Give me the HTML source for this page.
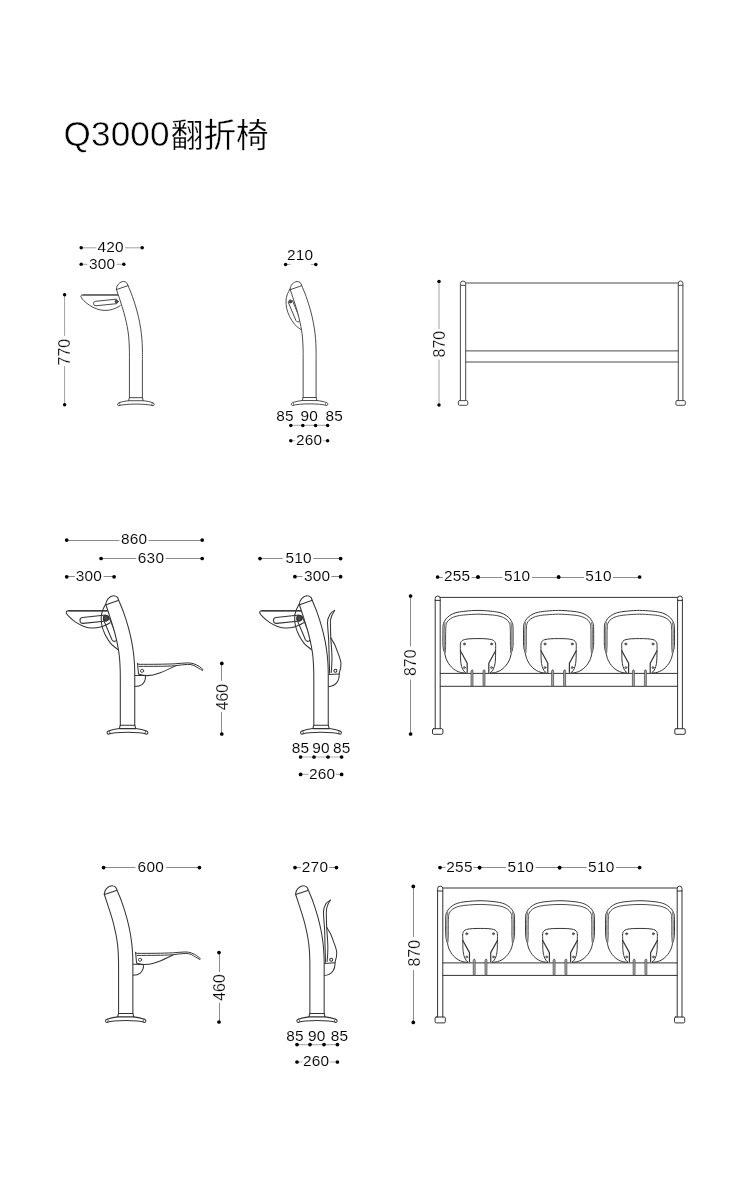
<!DOCTYPE html>
<html lang="zh-CN">
<head>
<meta charset="utf-8">
<title>Q3000翻折椅</title>
<style>
html,body{margin:0;padding:0;background:#fff;}
body{width:750px;height:1200px;position:relative;overflow:hidden;font-family:"Liberation Sans","Noto Sans CJK SC",sans-serif;}
svg{position:absolute;left:0;top:0;will-change:transform;filter:grayscale(1);}
svg text{font-family:"Liberation Sans","Noto Sans CJK SC",sans-serif;fill:#000;stroke:#fff;stroke-width:0.1px;letter-spacing:0.25px;}
svg text.v{stroke-width:0.2px;}
svg .t{stroke:#fff;stroke-width:0.5px;letter-spacing:0.15px;}
svg .c{stroke:#fff;stroke-width:0.3px;letter-spacing:0;}
</style>
</head>
<body>
<svg width="750" height="1200" viewBox="0 0 750 1200" stroke-linecap="round" stroke-linejoin="round">
<text x="63.4" y="145.6"><tspan class="t" font-size="35.2">Q3000</tspan><tspan class="c" x="170.8" y="146.8" font-size="32.6" font-weight="400">翻折椅</tspan></text>
<line x1="81.2" y1="247.8" x2="96" y2="247.8" stroke="#a2a2a2" stroke-width="1"/>
<line x1="125.5" y1="247.8" x2="142.2" y2="247.8" stroke="#a2a2a2" stroke-width="1"/>
<circle cx="81.2" cy="247.8" r="1.75" fill="#000"/>
<circle cx="142.2" cy="247.8" r="1.75" fill="#000"/>
<text x="110.6" y="252.1" font-size="15.4" text-anchor="middle">420</text>
<line x1="81.2" y1="264.3" x2="87" y2="264.3" stroke="#a2a2a2" stroke-width="1"/>
<line x1="117" y1="264.3" x2="123.8" y2="264.3" stroke="#a2a2a2" stroke-width="1"/>
<circle cx="81.2" cy="264.3" r="1.75" fill="#000"/>
<circle cx="123.8" cy="264.3" r="1.75" fill="#000"/>
<text x="102.2" y="268.6" font-size="15.4" text-anchor="middle">300</text>
<line x1="64.6" y1="294.8" x2="64.6" y2="335.5" stroke="#a2a2a2" stroke-width="1"/>
<line x1="64.6" y1="366.4" x2="64.6" y2="404.8" stroke="#a2a2a2" stroke-width="1"/>
<circle cx="64.6" cy="294.8" r="1.75" fill="#000"/>
<circle cx="64.6" cy="404.8" r="1.75" fill="#000"/>
<text transform="translate(70.4 352.15) rotate(-90)" class="v" font-size="15.9" text-anchor="middle" style="letter-spacing:0">770</text>
<g transform="translate(135.9 406.2) scale(0.898)" fill="none" stroke="#404040" stroke-width="1.05">
<path d="M-20.3 -123.9 L-59.2 -123.9 C-61 -123.9 -61.7 -122.8 -61.1 -121.5 C-60.4 -120 -59.2 -118.8 -57.9 -117.5 C-56 -115.6 -54 -113.9 -51.5 -112.3 C-49 -110.7 -46.5 -109.3 -43.5 -108.3 C-41 -107.5 -38.5 -106.8 -35.5 -106.7 C-33 -106.6 -31 -106.7 -29.1 -107.1 C-27 -107.5 -24.8 -108.2 -22.7 -109.1 C-20.8 -109.9 -19 -110.9 -17.5 -111.9" />
<path d="M-20.3 -123.8 L-59 -123.8" stroke-width="1.3"/>
<path d="M-21.76 -119.19 L-44.96 -116.79 A2.5 2.5 0 0 0 -44.44 -111.81 L-21.24 -114.21" />
<circle cx="-21.5" cy="-116.7" r="1.7" fill="#4a4a4a"/>
<path d="M-7.2 -9.5 L-7.2 -54 L-7.2 -54 C-7.22 -55.78 -7.18 -61.05 -7.3 -64.7 C-7.42 -68.35 -7.62 -72.57 -7.9 -75.9 C-8.18 -79.23 -8.53 -81.77 -9 -84.7 C-9.47 -87.63 -9.95 -90.17 -10.7 -93.5 C-11.45 -96.83 -12.37 -100.7 -13.5 -104.7 C-14.63 -108.7 -16.13 -113.25 -17.5 -117.5 C-18.87 -121.75 -21 -128.08 -21.7 -130.2 C-21.6 -133 -20.6 -134.6 -19.5 -135.9 C-17.6 -138 -15.6 -138.9 -13.9 -138.9 C-12.4 -138.9 -11.2 -138.3 -10.3 -137.5 C-9.6 -136.7 -9.2 -135.7 -8.9 -134.6 C-8.07 -132.55 -5.53 -126.88 -3.9 -122.3 C-2.27 -117.72 -0.43 -111.9 0.9 -107.1 C2.23 -102.3 3.23 -97.9 4.1 -93.5 C4.97 -89.1 5.62 -84.62 6.1 -80.7 C6.58 -76.78 6.81 -73.45 7 -70 C7.19 -66.55 7.21 -63 7.25 -60 C7.29 -57 7.25 -53.33 7.25 -52 L7.25 -9.5 Z" fill="#fff" stroke="none"/>
<path d="M-21.7 -130.2 C-21 -128.08 -18.87 -121.75 -17.5 -117.5 C-16.13 -113.25 -14.63 -108.7 -13.5 -104.7 C-12.37 -100.7 -11.45 -96.83 -10.7 -93.5 C-9.95 -90.17 -9.47 -87.63 -9 -84.7 C-8.53 -81.77 -8.18 -79.23 -7.9 -75.9 C-7.62 -72.57 -7.42 -68.35 -7.3 -64.7 C-7.18 -61.05 -7.22 -55.78 -7.2 -54 L-7.2 -9.5" />
<path d="M-8.9 -134.6 C-8.07 -132.55 -5.53 -126.88 -3.9 -122.3 C-2.27 -117.72 -0.43 -111.9 0.9 -107.1 C2.23 -102.3 3.23 -97.9 4.1 -93.5 C4.97 -89.1 5.62 -84.62 6.1 -80.7 C6.58 -76.78 6.81 -73.45 7 -70 C7.19 -66.55 7.21 -63 7.25 -60 C7.29 -57 7.25 -53.33 7.25 -52 L7.25 -9.5" />
<path d="M-21.7 -130.2 C-21.6 -133 -20.6 -134.6 -19.5 -135.9 C-17.6 -138 -15.6 -138.9 -13.9 -138.9 C-12.4 -138.9 -11.2 -138.3 -10.3 -137.5 C-9.6 -136.7 -9.2 -135.7 -8.9 -134.6" />
<path d="M-21.5 -129.9 L-9.3 -134.1" />
<path d="M-7.2 -9.5 L7.25 -9.5 M-7.2 -9.5 L-8.2 -6.1 L8.2 -6.1 L7.25 -9.5" />
<path d="M-8.2 -6.1 C-12 -5.7 -16 -4.9 -19 -3.8 C-20.8 -3.2 -20.9 -0.9 -19.2 -0.5 C-12 -3 12 -3 19.2 -0.5 C20.9 -0.9 20.8 -3.2 19 -3.8 C16 -4.9 12 -5.7 8.2 -6.1" />
<path d="M-18.6 -3.9 C-17.6 -3.2 -17.3 -1.8 -18 -0.9 M18.6 -3.9 C17.6 -3.2 17.3 -1.8 18 -0.9" stroke-width="0.8"/>
</g>
<text x="300.1" y="259.8" font-size="15.4" text-anchor="middle">210</text>
<line x1="285.6" y1="264.4" x2="290" y2="264.4" stroke="#a2a2a2" stroke-width="1"/>
<line x1="311.4" y1="264.4" x2="315.8" y2="264.4" stroke="#a2a2a2" stroke-width="1"/>
<circle cx="285.6" cy="264.4" r="1.75" fill="#000"/>
<circle cx="315.8" cy="264.4" r="1.75" fill="#000"/>
<g transform="translate(309.6 406) scale(0.896)" fill="none" stroke="#404040" stroke-width="1.05">
<path d="M-21.9 -130.5 C-22.43 -129.4 -24.37 -126.07 -25.1 -123.9 C-25.83 -121.73 -26.23 -120.03 -26.3 -117.5 C-26.37 -114.97 -26.17 -111.63 -25.5 -108.7 C-24.83 -105.77 -23.77 -102.83 -22.3 -99.9 C-20.83 -96.97 -18.83 -93.57 -16.7 -91.1 C-14.57 -88.63 -10.7 -86.1 -9.5 -85.1" />
<path d="M-23.8 -115.73 L-15.2 -95.33 A2.5 2.5 0 0 0 -10.6 -97.27 L-19.2 -117.67" />
<circle cx="-21.5" cy="-116.7" r="1.7" fill="#4a4a4a"/>
<path d="M-7.2 -9.5 L-7.2 -54 L-7.2 -54 C-7.22 -55.78 -7.18 -61.05 -7.3 -64.7 C-7.42 -68.35 -7.62 -72.57 -7.9 -75.9 C-8.18 -79.23 -8.53 -81.77 -9 -84.7 C-9.47 -87.63 -9.95 -90.17 -10.7 -93.5 C-11.45 -96.83 -12.37 -100.7 -13.5 -104.7 C-14.63 -108.7 -16.13 -113.25 -17.5 -117.5 C-18.87 -121.75 -21 -128.08 -21.7 -130.2 C-21.6 -133 -20.6 -134.6 -19.5 -135.9 C-17.6 -138 -15.6 -138.9 -13.9 -138.9 C-12.4 -138.9 -11.2 -138.3 -10.3 -137.5 C-9.6 -136.7 -9.2 -135.7 -8.9 -134.6 C-8.07 -132.55 -5.53 -126.88 -3.9 -122.3 C-2.27 -117.72 -0.43 -111.9 0.9 -107.1 C2.23 -102.3 3.23 -97.9 4.1 -93.5 C4.97 -89.1 5.62 -84.62 6.1 -80.7 C6.58 -76.78 6.81 -73.45 7 -70 C7.19 -66.55 7.21 -63 7.25 -60 C7.29 -57 7.25 -53.33 7.25 -52 L7.25 -9.5 Z" fill="#fff" stroke="none"/>
<path d="M-21.7 -130.2 C-21 -128.08 -18.87 -121.75 -17.5 -117.5 C-16.13 -113.25 -14.63 -108.7 -13.5 -104.7 C-12.37 -100.7 -11.45 -96.83 -10.7 -93.5 C-9.95 -90.17 -9.47 -87.63 -9 -84.7 C-8.53 -81.77 -8.18 -79.23 -7.9 -75.9 C-7.62 -72.57 -7.42 -68.35 -7.3 -64.7 C-7.18 -61.05 -7.22 -55.78 -7.2 -54 L-7.2 -9.5" />
<path d="M-8.9 -134.6 C-8.07 -132.55 -5.53 -126.88 -3.9 -122.3 C-2.27 -117.72 -0.43 -111.9 0.9 -107.1 C2.23 -102.3 3.23 -97.9 4.1 -93.5 C4.97 -89.1 5.62 -84.62 6.1 -80.7 C6.58 -76.78 6.81 -73.45 7 -70 C7.19 -66.55 7.21 -63 7.25 -60 C7.29 -57 7.25 -53.33 7.25 -52 L7.25 -9.5" />
<path d="M-21.7 -130.2 C-21.6 -133 -20.6 -134.6 -19.5 -135.9 C-17.6 -138 -15.6 -138.9 -13.9 -138.9 C-12.4 -138.9 -11.2 -138.3 -10.3 -137.5 C-9.6 -136.7 -9.2 -135.7 -8.9 -134.6" />
<path d="M-21.5 -129.9 L-9.3 -134.1" />
<path d="M-7.2 -9.5 L7.25 -9.5 M-7.2 -9.5 L-8.2 -6.1 L8.2 -6.1 L7.25 -9.5" />
<path d="M-8.2 -6.1 C-12 -5.7 -16 -4.9 -19 -3.8 C-20.8 -3.2 -20.9 -0.9 -19.2 -0.5 C-12 -3 12 -3 19.2 -0.5 C20.9 -0.9 20.8 -3.2 19 -3.8 C16 -4.9 12 -5.7 8.2 -6.1" />
<path d="M-18.6 -3.9 C-17.6 -3.2 -17.3 -1.8 -18 -0.9 M18.6 -3.9 C17.6 -3.2 17.3 -1.8 18 -0.9" stroke-width="0.8"/>
</g>
<line x1="290.8" y1="425.4" x2="327.6" y2="425.4" stroke="#b4b4b4" stroke-width="1.2"/>
<circle cx="290.8" cy="425.4" r="1.75" fill="#000"/>
<circle cx="302.8" cy="425.4" r="1.75" fill="#000"/>
<circle cx="315.6" cy="425.4" r="1.75" fill="#000"/>
<circle cx="327.6" cy="425.4" r="1.75" fill="#000"/>
<text x="285" y="420.8" font-size="15.4" text-anchor="middle">85</text>
<text x="309.3" y="420.8" font-size="15.4" text-anchor="middle">90</text>
<text x="334.2" y="420.8" font-size="15.4" text-anchor="middle">85</text>
<line x1="290.8" y1="440.8" x2="294.8" y2="440.8" stroke="#b4b4b4" stroke-width="1.1"/>
<line x1="323.4" y1="440.8" x2="327.6" y2="440.8" stroke="#b4b4b4" stroke-width="1.1"/>
<circle cx="290.8" cy="440.8" r="1.75" fill="#000"/>
<circle cx="327.6" cy="440.8" r="1.75" fill="#000"/>
<text x="309.1" y="445.1" font-size="15.4" text-anchor="middle">260</text>
<line x1="439" y1="281.6" x2="439" y2="328.7" stroke="#a2a2a2" stroke-width="1"/>
<line x1="439" y1="360" x2="439" y2="405.1" stroke="#a2a2a2" stroke-width="1"/>
<circle cx="439" cy="281.6" r="1.75" fill="#000"/>
<circle cx="439" cy="405.1" r="1.75" fill="#000"/>
<text transform="translate(444.8 344.15) rotate(-90)" class="v" font-size="15.9" text-anchor="middle" style="letter-spacing:0">870</text>
<g fill="none" stroke="#4a4a4a" stroke-width="1">
<path d="M460.4 400.6 L460.4 283.65 A2.65 2.65 0 0 1 465.7 283.65 L465.7 400.6" />
<path d="M460.4 285.3 L465.7 285.3" />
<rect x="458.35" y="400.6" width="9.4" height="4.7" rx="1.2" ry="1.2"/>
<path d="M678.3 400.6 L678.3 283.3 A2.3 2.3 0 0 1 682.9 283.3 L682.9 400.6" />
<path d="M678.3 285.3 L682.9 285.3" />
<rect x="675.9" y="400.6" width="9.4" height="4.7" rx="1.2" ry="1.2"/>
<path d="M465.7 283 L678.3 283" />
<path d="M465.7 350.9 L678.3 350.9 M465.7 362 L678.3 362" />
</g>
<line x1="66.7" y1="540.5" x2="119" y2="540.5" stroke="#6e6e6e" stroke-width="0.8"/>
<line x1="148.9" y1="540.5" x2="202.2" y2="540.5" stroke="#6e6e6e" stroke-width="0.8"/>
<circle cx="66.7" cy="540.1" r="1.85" fill="#000"/>
<circle cx="202.2" cy="540.1" r="1.85" fill="#000"/>
<text x="134.15" y="544.4" font-size="15.4" text-anchor="middle">860</text>
<line x1="101.1" y1="558.5" x2="135.8" y2="558.5" stroke="#6e6e6e" stroke-width="0.8"/>
<line x1="166" y1="558.5" x2="202.2" y2="558.5" stroke="#6e6e6e" stroke-width="0.8"/>
<circle cx="101.1" cy="558.5" r="1.85" fill="#000"/>
<circle cx="202.2" cy="558.5" r="1.85" fill="#000"/>
<text x="151" y="562.8" font-size="15.4" text-anchor="middle">630</text>
<line x1="66.7" y1="576.5" x2="74.5" y2="576.5" stroke="#6e6e6e" stroke-width="0.8"/>
<line x1="104" y1="576.5" x2="114.1" y2="576.5" stroke="#6e6e6e" stroke-width="0.8"/>
<circle cx="66.7" cy="576.8" r="1.85" fill="#000"/>
<circle cx="114.1" cy="576.8" r="1.85" fill="#000"/>
<text x="88.9" y="581.1" font-size="15.4" text-anchor="middle">300</text>
<line x1="221.5" y1="663.4" x2="221.5" y2="680.4" stroke="#6e6e6e" stroke-width="0.8"/>
<line x1="221.5" y1="712.4" x2="221.5" y2="734" stroke="#6e6e6e" stroke-width="0.8"/>
<circle cx="221.8" cy="663.4" r="1.85" fill="#000"/>
<circle cx="221.8" cy="734" r="1.85" fill="#000"/>
<text transform="translate(228 697.1) rotate(-90)" class="v" font-size="15.9" text-anchor="middle" style="letter-spacing:0">460</text>
<g transform="translate(127.5 734.7) scale(1.0)" fill="none" stroke="#333" stroke-width="1.05">
<path d="M-20.3 -123.9 L-59.2 -123.9 C-61 -123.9 -61.7 -122.8 -61.1 -121.5 C-60.4 -120 -59.2 -118.8 -57.9 -117.5 C-56 -115.6 -54 -113.9 -51.5 -112.3 C-49 -110.7 -46.5 -109.3 -43.5 -108.3 C-41 -107.5 -38.5 -106.8 -35.5 -106.7 C-33 -106.6 -31 -106.7 -29.1 -107.1 C-27 -107.5 -24.8 -108.2 -22.7 -109.1 C-20.8 -109.9 -19 -110.9 -17.5 -111.9" />
<path d="M-20.3 -123.8 L-59 -123.8" stroke-width="1.3"/>
<path d="M-21.81 -119.68 L-45.01 -117.28 A3.0 3.0 0 0 0 -44.39 -111.32 L-21.19 -113.72" />
<circle cx="-21.5" cy="-116.7" r="2.6" fill="#4a4a4a"/>
<path d="M-21.9 -130.5 C-22.43 -129.4 -24.37 -126.07 -25.1 -123.9 C-25.83 -121.73 -26.23 -120.03 -26.3 -117.5 C-26.37 -114.97 -26.17 -111.63 -25.5 -108.7 C-24.83 -105.77 -23.77 -102.83 -22.3 -99.9 C-20.83 -96.97 -18.83 -93.57 -16.7 -91.1 C-14.57 -88.63 -10.7 -86.1 -9.5 -85.1" />
<path d="M-24.26 -115.53 L-15.66 -95.13 A3.0 3.0 0 0 0 -10.14 -97.47 L-18.74 -117.87" />
<circle cx="-21.5" cy="-116.7" r="2.6" fill="#4a4a4a"/>
<path d="M10 -71.5 L10.9 -70.4 C24 -70.3 38 -70.5 47.3 -70.9 C52 -71.1 56 -71.8 60.1 -71.8 C62.5 -71.8 64.6 -71.5 66.5 -70.8 C68.6 -70 70.2 -69.2 71.8 -68.2 C73.2 -67.2 74.4 -66.2 75.5 -65.1 L75 -64.1 C73.8 -65 72.6 -65.8 70.8 -66.6 C69.2 -67.5 68 -68.4 66.5 -69.2 C64.6 -70 62.5 -70.3 60.1 -70.3 C56 -70.3 52 -69.3 47.3 -68.9 C38 -68.3 24 -68.4 11.5 -68.3" stroke-width="1.0"/>
<path d="M10 -71.5 L11 -60.7 C13 -59.8 16 -59.2 18.5 -59.1 C27 -58.6 36.5 -63.2 47.8 -68.8" />
<circle cx="14.55" cy="-63.9" r="1.6" fill="#fff" stroke-width="0.9"/>
<path d="M7.3 -59.3 L17.8 -59.1 C18.1 -57.6 18 -56.2 17.6 -54.9 C17 -53 16.1 -51.6 14.8 -50.4 C13 -48.9 10.4 -48.3 7.3 -48.3" />
<path d="M-7.2 -9.5 L-7.2 -54 L-7.2 -54 C-7.22 -55.78 -7.18 -61.05 -7.3 -64.7 C-7.42 -68.35 -7.62 -72.57 -7.9 -75.9 C-8.18 -79.23 -8.53 -81.77 -9 -84.7 C-9.47 -87.63 -9.95 -90.17 -10.7 -93.5 C-11.45 -96.83 -12.37 -100.7 -13.5 -104.7 C-14.63 -108.7 -16.13 -113.25 -17.5 -117.5 C-18.87 -121.75 -21 -128.08 -21.7 -130.2 C-21.6 -133 -20.6 -134.6 -19.5 -135.9 C-17.6 -138 -15.6 -138.9 -13.9 -138.9 C-12.4 -138.9 -11.2 -138.3 -10.3 -137.5 C-9.6 -136.7 -9.2 -135.7 -8.9 -134.6 C-8.07 -132.55 -5.53 -126.88 -3.9 -122.3 C-2.27 -117.72 -0.43 -111.9 0.9 -107.1 C2.23 -102.3 3.23 -97.9 4.1 -93.5 C4.97 -89.1 5.62 -84.62 6.1 -80.7 C6.58 -76.78 6.81 -73.45 7 -70 C7.19 -66.55 7.21 -63 7.25 -60 C7.29 -57 7.25 -53.33 7.25 -52 L7.25 -9.5 Z" fill="#fff" stroke="none"/>
<path d="M-21.7 -130.2 C-21 -128.08 -18.87 -121.75 -17.5 -117.5 C-16.13 -113.25 -14.63 -108.7 -13.5 -104.7 C-12.37 -100.7 -11.45 -96.83 -10.7 -93.5 C-9.95 -90.17 -9.47 -87.63 -9 -84.7 C-8.53 -81.77 -8.18 -79.23 -7.9 -75.9 C-7.62 -72.57 -7.42 -68.35 -7.3 -64.7 C-7.18 -61.05 -7.22 -55.78 -7.2 -54 L-7.2 -9.5" />
<path d="M-8.9 -134.6 C-8.07 -132.55 -5.53 -126.88 -3.9 -122.3 C-2.27 -117.72 -0.43 -111.9 0.9 -107.1 C2.23 -102.3 3.23 -97.9 4.1 -93.5 C4.97 -89.1 5.62 -84.62 6.1 -80.7 C6.58 -76.78 6.81 -73.45 7 -70 C7.19 -66.55 7.21 -63 7.25 -60 C7.29 -57 7.25 -53.33 7.25 -52 L7.25 -9.5" />
<path d="M-21.7 -130.2 C-21.6 -133 -20.6 -134.6 -19.5 -135.9 C-17.6 -138 -15.6 -138.9 -13.9 -138.9 C-12.4 -138.9 -11.2 -138.3 -10.3 -137.5 C-9.6 -136.7 -9.2 -135.7 -8.9 -134.6" />
<path d="M-21.5 -129.9 L-9.3 -134.1" />
<path d="M-7.2 -9.5 L7.25 -9.5 M-7.2 -9.5 L-8.2 -6.1 L8.2 -6.1 L7.25 -9.5" />
<path d="M-8.2 -6.1 C-12 -5.7 -16 -4.9 -19 -3.8 C-20.8 -3.2 -20.9 -0.9 -19.2 -0.5 C-12 -3 12 -3 19.2 -0.5 C20.9 -0.9 20.8 -3.2 19 -3.8 C16 -4.9 12 -5.7 8.2 -6.1" />
<path d="M-18.6 -3.9 C-17.6 -3.2 -17.3 -1.8 -18 -0.9 M18.6 -3.9 C17.6 -3.2 17.3 -1.8 18 -0.9" stroke-width="0.8"/>
</g>
<line x1="260" y1="558.5" x2="282.4" y2="558.5" stroke="#6e6e6e" stroke-width="0.8"/>
<line x1="313.6" y1="558.5" x2="340.6" y2="558.5" stroke="#6e6e6e" stroke-width="0.8"/>
<circle cx="260" cy="558.6" r="1.85" fill="#000"/>
<circle cx="340.6" cy="558.6" r="1.85" fill="#000"/>
<text x="298.7" y="562.9" font-size="15.4" text-anchor="middle">510</text>
<line x1="294.9" y1="576.5" x2="302.2" y2="576.5" stroke="#6e6e6e" stroke-width="0.8"/>
<line x1="331.8" y1="576.5" x2="340.6" y2="576.5" stroke="#6e6e6e" stroke-width="0.8"/>
<circle cx="294.9" cy="576.7" r="1.85" fill="#000"/>
<circle cx="340.6" cy="576.7" r="1.85" fill="#000"/>
<text x="317.1" y="581" font-size="15.4" text-anchor="middle">300</text>
<g transform="translate(321 734.7) scale(1.0)" fill="none" stroke="#333" stroke-width="1.05">
<path d="M-20.3 -123.9 L-59.2 -123.9 C-61 -123.9 -61.7 -122.8 -61.1 -121.5 C-60.4 -120 -59.2 -118.8 -57.9 -117.5 C-56 -115.6 -54 -113.9 -51.5 -112.3 C-49 -110.7 -46.5 -109.3 -43.5 -108.3 C-41 -107.5 -38.5 -106.8 -35.5 -106.7 C-33 -106.6 -31 -106.7 -29.1 -107.1 C-27 -107.5 -24.8 -108.2 -22.7 -109.1 C-20.8 -109.9 -19 -110.9 -17.5 -111.9" />
<path d="M-20.3 -123.8 L-59 -123.8" stroke-width="1.3"/>
<path d="M-21.81 -119.68 L-45.01 -117.28 A3.0 3.0 0 0 0 -44.39 -111.32 L-21.19 -113.72" />
<circle cx="-21.5" cy="-116.7" r="2.6" fill="#4a4a4a"/>
<path d="M-21.9 -130.5 C-22.43 -129.4 -24.37 -126.07 -25.1 -123.9 C-25.83 -121.73 -26.23 -120.03 -26.3 -117.5 C-26.37 -114.97 -26.17 -111.63 -25.5 -108.7 C-24.83 -105.77 -23.77 -102.83 -22.3 -99.9 C-20.83 -96.97 -18.83 -93.57 -16.7 -91.1 C-14.57 -88.63 -10.7 -86.1 -9.5 -85.1" />
<path d="M-24.26 -115.53 L-15.66 -95.13 A3.0 3.0 0 0 0 -10.14 -97.47 L-18.74 -117.87" />
<circle cx="-21.5" cy="-116.7" r="2.6" fill="#4a4a4a"/>
<path d="M13.6 -124.3 C11 -123 9.6 -121.6 9 -120.5 C7 -117 6.4 -115 6.5 -112 C6.8 -105 7.6 -98 7.75 -93 L8.6 -61.4" />
<path d="M13.6 -124.3 C12 -121.6 11.2 -120.4 10.7 -118.9 C9.6 -116 9.3 -114 9.4 -111.4 C9.5 -106 9.6 -101 9.8 -97.2 C10.2 -90 11 -82 11 -76.4 C11 -70 10.6 -66 10.25 -62.2" />
<path d="M9.8 -96.8 C12.5 -93 15 -88 16.5 -83 C18.4 -78 19.8 -74.4 20 -71.4 C20.2 -68 19.2 -64.4 18.2 -61.4" />
<path d="M7.5 -60.2 L18.2 -60.8" />
<circle cx="14.4" cy="-63.9" r="1.5" fill="#fff"/>
<path d="M18.2 -60.8 C18.6 -54 15 -48.6 7.3 -48" />
<path d="M-7.2 -9.5 L-7.2 -54 L-7.2 -54 C-7.22 -55.78 -7.18 -61.05 -7.3 -64.7 C-7.42 -68.35 -7.62 -72.57 -7.9 -75.9 C-8.18 -79.23 -8.53 -81.77 -9 -84.7 C-9.47 -87.63 -9.95 -90.17 -10.7 -93.5 C-11.45 -96.83 -12.37 -100.7 -13.5 -104.7 C-14.63 -108.7 -16.13 -113.25 -17.5 -117.5 C-18.87 -121.75 -21 -128.08 -21.7 -130.2 C-21.6 -133 -20.6 -134.6 -19.5 -135.9 C-17.6 -138 -15.6 -138.9 -13.9 -138.9 C-12.4 -138.9 -11.2 -138.3 -10.3 -137.5 C-9.6 -136.7 -9.2 -135.7 -8.9 -134.6 C-8.07 -132.55 -5.53 -126.88 -3.9 -122.3 C-2.27 -117.72 -0.43 -111.9 0.9 -107.1 C2.23 -102.3 3.23 -97.9 4.1 -93.5 C4.97 -89.1 5.62 -84.62 6.1 -80.7 C6.58 -76.78 6.81 -73.45 7 -70 C7.19 -66.55 7.21 -63 7.25 -60 C7.29 -57 7.25 -53.33 7.25 -52 L7.25 -9.5 Z" fill="#fff" stroke="none"/>
<path d="M-21.7 -130.2 C-21 -128.08 -18.87 -121.75 -17.5 -117.5 C-16.13 -113.25 -14.63 -108.7 -13.5 -104.7 C-12.37 -100.7 -11.45 -96.83 -10.7 -93.5 C-9.95 -90.17 -9.47 -87.63 -9 -84.7 C-8.53 -81.77 -8.18 -79.23 -7.9 -75.9 C-7.62 -72.57 -7.42 -68.35 -7.3 -64.7 C-7.18 -61.05 -7.22 -55.78 -7.2 -54 L-7.2 -9.5" />
<path d="M-8.9 -134.6 C-8.07 -132.55 -5.53 -126.88 -3.9 -122.3 C-2.27 -117.72 -0.43 -111.9 0.9 -107.1 C2.23 -102.3 3.23 -97.9 4.1 -93.5 C4.97 -89.1 5.62 -84.62 6.1 -80.7 C6.58 -76.78 6.81 -73.45 7 -70 C7.19 -66.55 7.21 -63 7.25 -60 C7.29 -57 7.25 -53.33 7.25 -52 L7.25 -9.5" />
<path d="M-21.7 -130.2 C-21.6 -133 -20.6 -134.6 -19.5 -135.9 C-17.6 -138 -15.6 -138.9 -13.9 -138.9 C-12.4 -138.9 -11.2 -138.3 -10.3 -137.5 C-9.6 -136.7 -9.2 -135.7 -8.9 -134.6" />
<path d="M-21.5 -129.9 L-9.3 -134.1" />
<path d="M-7.2 -9.5 L7.25 -9.5 M-7.2 -9.5 L-8.2 -6.1 L8.2 -6.1 L7.25 -9.5" />
<path d="M-8.2 -6.1 C-12 -5.7 -16 -4.9 -19 -3.8 C-20.8 -3.2 -20.9 -0.9 -19.2 -0.5 C-12 -3 12 -3 19.2 -0.5 C20.9 -0.9 20.8 -3.2 19 -3.8 C16 -4.9 12 -5.7 8.2 -6.1" />
<path d="M-18.6 -3.9 C-17.6 -3.2 -17.3 -1.8 -18 -0.9 M18.6 -3.9 C17.6 -3.2 17.3 -1.8 18 -0.9" stroke-width="0.8"/>
</g>
<line x1="300.6" y1="757" x2="341.6" y2="757" stroke="#b4b4b4" stroke-width="1.2"/>
<circle cx="300.6" cy="757" r="1.85" fill="#000"/>
<circle cx="314" cy="757" r="1.85" fill="#000"/>
<circle cx="328" cy="757" r="1.85" fill="#000"/>
<circle cx="341.6" cy="757" r="1.85" fill="#000"/>
<text x="300.5" y="753.4" font-size="15.4" text-anchor="middle">85</text>
<text x="321" y="753.4" font-size="15.4" text-anchor="middle">90</text>
<text x="341.7" y="753.4" font-size="15.4" text-anchor="middle">85</text>
<line x1="300.6" y1="774.4" x2="308" y2="774.4" stroke="#b4b4b4" stroke-width="1.1"/>
<line x1="336.4" y1="774.4" x2="341.6" y2="774.4" stroke="#b4b4b4" stroke-width="1.1"/>
<circle cx="300.6" cy="774.4" r="1.85" fill="#000"/>
<circle cx="341.6" cy="774.4" r="1.85" fill="#000"/>
<text x="322.2" y="778.7" font-size="15.4" text-anchor="middle">260</text>
<line x1="437.6" y1="577.5" x2="442.4" y2="577.5" stroke="#6e6e6e" stroke-width="0.8"/>
<line x1="472" y1="577.5" x2="478" y2="577.5" stroke="#6e6e6e" stroke-width="0.8"/>
<circle cx="437.6" cy="577" r="1.85" fill="#000"/>
<circle cx="478" cy="577" r="1.85" fill="#000"/>
<text x="457.2" y="581.3" font-size="15.4" text-anchor="middle">255</text>
<line x1="478" y1="577.5" x2="502" y2="577.5" stroke="#6e6e6e" stroke-width="0.8"/>
<line x1="532.4" y1="577.5" x2="558.6" y2="577.5" stroke="#6e6e6e" stroke-width="0.8"/>
<circle cx="478" cy="577" r="1.85" fill="#000"/>
<circle cx="558.6" cy="577" r="1.85" fill="#000"/>
<text x="517.2" y="581.3" font-size="15.4" text-anchor="middle">510</text>
<line x1="558.6" y1="577.5" x2="583.6" y2="577.5" stroke="#6e6e6e" stroke-width="0.8"/>
<line x1="613.4" y1="577.5" x2="639.6" y2="577.5" stroke="#6e6e6e" stroke-width="0.8"/>
<circle cx="558.6" cy="577" r="1.85" fill="#000"/>
<circle cx="639.6" cy="577" r="1.85" fill="#000"/>
<text x="598.5" y="581.3" font-size="15.4" text-anchor="middle">510</text>
<line x1="410.5" y1="596" x2="410.5" y2="646" stroke="#6e6e6e" stroke-width="0.8"/>
<line x1="410.5" y1="680" x2="410.5" y2="734" stroke="#6e6e6e" stroke-width="0.8"/>
<circle cx="410.6" cy="596" r="1.85" fill="#000"/>
<circle cx="410.6" cy="734" r="1.85" fill="#000"/>
<text transform="translate(415.9 662.8) rotate(-90)" class="v" font-size="15.9" text-anchor="middle" style="letter-spacing:0">870</text>
<g fill="none" stroke="#333" stroke-width="1">
<path d="M435.2 728.7 L435.2 598.5 A2.5 2.5 0 0 1 440.2 598.5 L440.2 728.7" />
<path d="M435.2 600.4 L440.2 600.4" />
<rect x="432.5" y="728.7" width="10.4" height="5.6" rx="1.2" ry="1.2"/>
<path d="M677.6 728.7 L677.6 598.4 A2.4 2.4 0 0 1 682.4 598.4 L682.4 728.7" />
<path d="M677.6 600.4 L682.4 600.4" />
<rect x="674.8" y="728.7" width="10.4" height="5.6" rx="1.2" ry="1.2"/>
<path d="M440.2 597.4 L677.6 597.4" />
<path d="M440.2 673.4 L677.6 673.4 M440.2 686.3 L677.6 686.3" />
</g>
<g transform="translate(478 0) scale(1.0)" fill="none" stroke="#333" stroke-width="1">
<path d="M-12.8 673 C-13.6 672.9 -16 672.83 -17.6 672.4 C-19.2 671.97 -20.93 671.27 -22.4 670.4 C-23.87 669.53 -25.2 668.4 -26.4 667.2 C-27.6 666 -28.67 664.67 -29.6 663.2 C-30.53 661.73 -31.4 660 -32 658.4 C-32.6 656.8 -32.77 655.2 -33.2 653.6 C-33.63 652 -34.29 650.4 -34.6 648.8 C-34.91 647.2 -34.97 646.8 -35.05 644 C-35.12 641.2 -35.09 635.2 -35.05 632 C-35.01 628.8 -35.11 626.67 -34.8 624.8 C-34.49 622.93 -33.93 622.07 -33.2 620.8 C-32.47 619.53 -31.67 618.33 -30.4 617.2 C-29.13 616.07 -27.33 614.83 -25.6 614 C-23.87 613.17 -22.27 612.68 -20 612.2 C-17.73 611.72 -15.33 611.4 -12 611.1 C-8.67 610.8 -4 610.4 0 610.4 C4 610.4 8.67 610.8 12 611.1 C15.33 611.4 17.73 611.72 20 612.2 C22.27 612.68 23.87 613.17 25.6 614 C27.33 614.83 29.13 616.07 30.4 617.2 C31.67 618.33 32.47 619.53 33.2 620.8 C33.93 622.07 34.49 622.93 34.8 624.8 C35.11 626.67 35.01 628.8 35.05 632 C35.09 635.2 35.12 641.2 35.05 644 C34.97 646.8 34.91 647.2 34.6 648.8 C34.29 650.4 33.63 652 33.2 653.6 C32.77 655.2 32.6 656.8 32 658.4 C31.4 660 30.53 661.73 29.6 663.2 C28.67 664.67 27.6 666 26.4 667.2 C25.2 668.4 23.87 669.53 22.4 670.4 C20.93 671.27 19.2 671.97 17.6 672.4 C16 672.83 13.6 672.9 12.8 673" />
<path d="M-32.8 652.8 C-32.73 651.6 -32.47 648.4 -32.4 645.6 C-32.33 642.8 -32.43 638.93 -32.4 636 C-32.37 633.07 -32.33 630.07 -32.2 628 C-32.07 625.93 -32.03 624.87 -31.6 623.6 C-31.17 622.33 -30.6 621.4 -29.6 620.4 C-28.6 619.4 -27.2 618.37 -25.6 617.6 C-24 616.83 -22.27 616.27 -20 615.8 C-17.73 615.33 -15.33 615.07 -12 614.8 C-8.67 614.53 -4 614.2 0 614.2 C4 614.2 8.67 614.53 12 614.8 C15.33 615.07 17.73 615.33 20 615.8 C22.27 616.27 24 616.83 25.6 617.6 C27.2 618.37 28.6 619.4 29.6 620.4 C30.6 621.4 31.17 622.33 31.6 623.6 C32.03 624.87 32.07 625.93 32.2 628 C32.33 630.07 32.37 633.07 32.4 636 C32.43 638.93 32.33 642.8 32.4 645.6 C32.47 648.4 32.73 651.6 32.8 652.8" stroke-width="0.9"/>
<path d="M-12.4 672.6 C-12.73 672.3 -13.73 671.83 -14.4 670.8 C-15.07 669.77 -15.9 668.2 -16.4 666.4 C-16.9 664.6 -17.2 662.67 -17.4 660 C-17.6 657.33 -17.57 653.07 -17.6 650.4 C-17.63 647.73 -17.8 645.53 -17.6 644 C-17.4 642.47 -17.07 641.93 -16.4 641.2 C-15.73 640.47 -15 640 -13.6 639.6 C-12.2 639.2 -10.27 638.97 -8 638.8 C-5.73 638.63 -2.67 638.6 0 638.6 C2.67 638.6 5.73 638.63 8 638.8 C10.27 638.97 12.2 639.2 13.6 639.6 C15 640 15.73 640.47 16.4 641.2 C17.07 641.93 17.4 642.47 17.6 644 C17.8 645.53 17.63 647.73 17.6 650.4 C17.57 653.07 17.6 657.33 17.4 660 C17.2 662.67 16.9 664.6 16.4 666.4 C15.9 668.2 15.07 669.77 14.4 670.8 C13.73 671.83 12.73 672.3 12.4 672.6" />
<path d="M-33 622.6 C-33.12 623.5 -33.57 625.77 -33.7 628 C-33.83 630.23 -33.8 632.83 -33.8 636 C-33.8 639.17 -33.8 644.27 -33.7 647 C-33.6 649.73 -33.28 651.5 -33.2 652.4" stroke-width="1.3" stroke="#888"/>
<path d="M-17.6 650.8 L-10.8 663.2 L-10.8 672.4" stroke-width="1.2"/>
<circle cx="13.6" cy="644" r="1.1" fill="#555" stroke="#444" stroke-width="0.6"/>
<circle cx="13.6" cy="667.6" r="1.0" fill="#999" stroke="#444" stroke-width="0.7"/>
<rect x="5" y="670" width="2.0" height="16.2" rx="1" fill="#aaa" stroke="#444" stroke-width="0.7"/>
<path d="M33 622.6 C33.12 623.5 33.57 625.77 33.7 628 C33.83 630.23 33.8 632.83 33.8 636 C33.8 639.17 33.8 644.27 33.7 647 C33.6 649.73 33.28 651.5 33.2 652.4" stroke-width="1.3" stroke="#888"/>
<path d="M17.6 650.8 L10.8 663.2 L10.8 672.4" stroke-width="1.2"/>
<circle cx="-13.6" cy="644" r="1.1" fill="#555" stroke="#444" stroke-width="0.6"/>
<circle cx="-13.6" cy="667.6" r="1.0" fill="#999" stroke="#444" stroke-width="0.7"/>
<rect x="-7" y="670" width="2.0" height="16.2" rx="1" fill="#aaa" stroke="#444" stroke-width="0.7"/>
</g>
<g transform="translate(558.6 0) scale(1.0)" fill="none" stroke="#333" stroke-width="1">
<path d="M-12.8 673 C-13.6 672.9 -16 672.83 -17.6 672.4 C-19.2 671.97 -20.93 671.27 -22.4 670.4 C-23.87 669.53 -25.2 668.4 -26.4 667.2 C-27.6 666 -28.67 664.67 -29.6 663.2 C-30.53 661.73 -31.4 660 -32 658.4 C-32.6 656.8 -32.77 655.2 -33.2 653.6 C-33.63 652 -34.29 650.4 -34.6 648.8 C-34.91 647.2 -34.97 646.8 -35.05 644 C-35.12 641.2 -35.09 635.2 -35.05 632 C-35.01 628.8 -35.11 626.67 -34.8 624.8 C-34.49 622.93 -33.93 622.07 -33.2 620.8 C-32.47 619.53 -31.67 618.33 -30.4 617.2 C-29.13 616.07 -27.33 614.83 -25.6 614 C-23.87 613.17 -22.27 612.68 -20 612.2 C-17.73 611.72 -15.33 611.4 -12 611.1 C-8.67 610.8 -4 610.4 0 610.4 C4 610.4 8.67 610.8 12 611.1 C15.33 611.4 17.73 611.72 20 612.2 C22.27 612.68 23.87 613.17 25.6 614 C27.33 614.83 29.13 616.07 30.4 617.2 C31.67 618.33 32.47 619.53 33.2 620.8 C33.93 622.07 34.49 622.93 34.8 624.8 C35.11 626.67 35.01 628.8 35.05 632 C35.09 635.2 35.12 641.2 35.05 644 C34.97 646.8 34.91 647.2 34.6 648.8 C34.29 650.4 33.63 652 33.2 653.6 C32.77 655.2 32.6 656.8 32 658.4 C31.4 660 30.53 661.73 29.6 663.2 C28.67 664.67 27.6 666 26.4 667.2 C25.2 668.4 23.87 669.53 22.4 670.4 C20.93 671.27 19.2 671.97 17.6 672.4 C16 672.83 13.6 672.9 12.8 673" />
<path d="M-32.8 652.8 C-32.73 651.6 -32.47 648.4 -32.4 645.6 C-32.33 642.8 -32.43 638.93 -32.4 636 C-32.37 633.07 -32.33 630.07 -32.2 628 C-32.07 625.93 -32.03 624.87 -31.6 623.6 C-31.17 622.33 -30.6 621.4 -29.6 620.4 C-28.6 619.4 -27.2 618.37 -25.6 617.6 C-24 616.83 -22.27 616.27 -20 615.8 C-17.73 615.33 -15.33 615.07 -12 614.8 C-8.67 614.53 -4 614.2 0 614.2 C4 614.2 8.67 614.53 12 614.8 C15.33 615.07 17.73 615.33 20 615.8 C22.27 616.27 24 616.83 25.6 617.6 C27.2 618.37 28.6 619.4 29.6 620.4 C30.6 621.4 31.17 622.33 31.6 623.6 C32.03 624.87 32.07 625.93 32.2 628 C32.33 630.07 32.37 633.07 32.4 636 C32.43 638.93 32.33 642.8 32.4 645.6 C32.47 648.4 32.73 651.6 32.8 652.8" stroke-width="0.9"/>
<path d="M-12.4 672.6 C-12.73 672.3 -13.73 671.83 -14.4 670.8 C-15.07 669.77 -15.9 668.2 -16.4 666.4 C-16.9 664.6 -17.2 662.67 -17.4 660 C-17.6 657.33 -17.57 653.07 -17.6 650.4 C-17.63 647.73 -17.8 645.53 -17.6 644 C-17.4 642.47 -17.07 641.93 -16.4 641.2 C-15.73 640.47 -15 640 -13.6 639.6 C-12.2 639.2 -10.27 638.97 -8 638.8 C-5.73 638.63 -2.67 638.6 0 638.6 C2.67 638.6 5.73 638.63 8 638.8 C10.27 638.97 12.2 639.2 13.6 639.6 C15 640 15.73 640.47 16.4 641.2 C17.07 641.93 17.4 642.47 17.6 644 C17.8 645.53 17.63 647.73 17.6 650.4 C17.57 653.07 17.6 657.33 17.4 660 C17.2 662.67 16.9 664.6 16.4 666.4 C15.9 668.2 15.07 669.77 14.4 670.8 C13.73 671.83 12.73 672.3 12.4 672.6" />
<path d="M-33 622.6 C-33.12 623.5 -33.57 625.77 -33.7 628 C-33.83 630.23 -33.8 632.83 -33.8 636 C-33.8 639.17 -33.8 644.27 -33.7 647 C-33.6 649.73 -33.28 651.5 -33.2 652.4" stroke-width="1.3" stroke="#888"/>
<path d="M-17.6 650.8 L-10.8 663.2 L-10.8 672.4" stroke-width="1.2"/>
<circle cx="13.6" cy="644" r="1.1" fill="#555" stroke="#444" stroke-width="0.6"/>
<circle cx="13.6" cy="667.6" r="1.0" fill="#999" stroke="#444" stroke-width="0.7"/>
<rect x="5" y="670" width="2.0" height="16.2" rx="1" fill="#aaa" stroke="#444" stroke-width="0.7"/>
<path d="M33 622.6 C33.12 623.5 33.57 625.77 33.7 628 C33.83 630.23 33.8 632.83 33.8 636 C33.8 639.17 33.8 644.27 33.7 647 C33.6 649.73 33.28 651.5 33.2 652.4" stroke-width="1.3" stroke="#888"/>
<path d="M17.6 650.8 L10.8 663.2 L10.8 672.4" stroke-width="1.2"/>
<circle cx="-13.6" cy="644" r="1.1" fill="#555" stroke="#444" stroke-width="0.6"/>
<circle cx="-13.6" cy="667.6" r="1.0" fill="#999" stroke="#444" stroke-width="0.7"/>
<rect x="-7" y="670" width="2.0" height="16.2" rx="1" fill="#aaa" stroke="#444" stroke-width="0.7"/>
</g>
<g transform="translate(639.4 0) scale(1.0)" fill="none" stroke="#333" stroke-width="1">
<path d="M-12.8 673 C-13.6 672.9 -16 672.83 -17.6 672.4 C-19.2 671.97 -20.93 671.27 -22.4 670.4 C-23.87 669.53 -25.2 668.4 -26.4 667.2 C-27.6 666 -28.67 664.67 -29.6 663.2 C-30.53 661.73 -31.4 660 -32 658.4 C-32.6 656.8 -32.77 655.2 -33.2 653.6 C-33.63 652 -34.29 650.4 -34.6 648.8 C-34.91 647.2 -34.97 646.8 -35.05 644 C-35.12 641.2 -35.09 635.2 -35.05 632 C-35.01 628.8 -35.11 626.67 -34.8 624.8 C-34.49 622.93 -33.93 622.07 -33.2 620.8 C-32.47 619.53 -31.67 618.33 -30.4 617.2 C-29.13 616.07 -27.33 614.83 -25.6 614 C-23.87 613.17 -22.27 612.68 -20 612.2 C-17.73 611.72 -15.33 611.4 -12 611.1 C-8.67 610.8 -4 610.4 0 610.4 C4 610.4 8.67 610.8 12 611.1 C15.33 611.4 17.73 611.72 20 612.2 C22.27 612.68 23.87 613.17 25.6 614 C27.33 614.83 29.13 616.07 30.4 617.2 C31.67 618.33 32.47 619.53 33.2 620.8 C33.93 622.07 34.49 622.93 34.8 624.8 C35.11 626.67 35.01 628.8 35.05 632 C35.09 635.2 35.12 641.2 35.05 644 C34.97 646.8 34.91 647.2 34.6 648.8 C34.29 650.4 33.63 652 33.2 653.6 C32.77 655.2 32.6 656.8 32 658.4 C31.4 660 30.53 661.73 29.6 663.2 C28.67 664.67 27.6 666 26.4 667.2 C25.2 668.4 23.87 669.53 22.4 670.4 C20.93 671.27 19.2 671.97 17.6 672.4 C16 672.83 13.6 672.9 12.8 673" />
<path d="M-32.8 652.8 C-32.73 651.6 -32.47 648.4 -32.4 645.6 C-32.33 642.8 -32.43 638.93 -32.4 636 C-32.37 633.07 -32.33 630.07 -32.2 628 C-32.07 625.93 -32.03 624.87 -31.6 623.6 C-31.17 622.33 -30.6 621.4 -29.6 620.4 C-28.6 619.4 -27.2 618.37 -25.6 617.6 C-24 616.83 -22.27 616.27 -20 615.8 C-17.73 615.33 -15.33 615.07 -12 614.8 C-8.67 614.53 -4 614.2 0 614.2 C4 614.2 8.67 614.53 12 614.8 C15.33 615.07 17.73 615.33 20 615.8 C22.27 616.27 24 616.83 25.6 617.6 C27.2 618.37 28.6 619.4 29.6 620.4 C30.6 621.4 31.17 622.33 31.6 623.6 C32.03 624.87 32.07 625.93 32.2 628 C32.33 630.07 32.37 633.07 32.4 636 C32.43 638.93 32.33 642.8 32.4 645.6 C32.47 648.4 32.73 651.6 32.8 652.8" stroke-width="0.9"/>
<path d="M-12.4 672.6 C-12.73 672.3 -13.73 671.83 -14.4 670.8 C-15.07 669.77 -15.9 668.2 -16.4 666.4 C-16.9 664.6 -17.2 662.67 -17.4 660 C-17.6 657.33 -17.57 653.07 -17.6 650.4 C-17.63 647.73 -17.8 645.53 -17.6 644 C-17.4 642.47 -17.07 641.93 -16.4 641.2 C-15.73 640.47 -15 640 -13.6 639.6 C-12.2 639.2 -10.27 638.97 -8 638.8 C-5.73 638.63 -2.67 638.6 0 638.6 C2.67 638.6 5.73 638.63 8 638.8 C10.27 638.97 12.2 639.2 13.6 639.6 C15 640 15.73 640.47 16.4 641.2 C17.07 641.93 17.4 642.47 17.6 644 C17.8 645.53 17.63 647.73 17.6 650.4 C17.57 653.07 17.6 657.33 17.4 660 C17.2 662.67 16.9 664.6 16.4 666.4 C15.9 668.2 15.07 669.77 14.4 670.8 C13.73 671.83 12.73 672.3 12.4 672.6" />
<path d="M-33 622.6 C-33.12 623.5 -33.57 625.77 -33.7 628 C-33.83 630.23 -33.8 632.83 -33.8 636 C-33.8 639.17 -33.8 644.27 -33.7 647 C-33.6 649.73 -33.28 651.5 -33.2 652.4" stroke-width="1.3" stroke="#888"/>
<path d="M-17.6 650.8 L-10.8 663.2 L-10.8 672.4" stroke-width="1.2"/>
<circle cx="13.6" cy="644" r="1.1" fill="#555" stroke="#444" stroke-width="0.6"/>
<circle cx="13.6" cy="667.6" r="1.0" fill="#999" stroke="#444" stroke-width="0.7"/>
<rect x="5" y="670" width="2.0" height="16.2" rx="1" fill="#aaa" stroke="#444" stroke-width="0.7"/>
<path d="M33 622.6 C33.12 623.5 33.57 625.77 33.7 628 C33.83 630.23 33.8 632.83 33.8 636 C33.8 639.17 33.8 644.27 33.7 647 C33.6 649.73 33.28 651.5 33.2 652.4" stroke-width="1.3" stroke="#888"/>
<path d="M17.6 650.8 L10.8 663.2 L10.8 672.4" stroke-width="1.2"/>
<circle cx="-13.6" cy="644" r="1.1" fill="#555" stroke="#444" stroke-width="0.6"/>
<circle cx="-13.6" cy="667.6" r="1.0" fill="#999" stroke="#444" stroke-width="0.7"/>
<rect x="-7" y="670" width="2.0" height="16.2" rx="1" fill="#aaa" stroke="#444" stroke-width="0.7"/>
</g>
<line x1="103.6" y1="867.5" x2="135" y2="867.5" stroke="#6e6e6e" stroke-width="0.8"/>
<line x1="166.6" y1="867.5" x2="199.4" y2="867.5" stroke="#6e6e6e" stroke-width="0.8"/>
<circle cx="103.6" cy="867.6" r="1.85" fill="#000"/>
<circle cx="199.4" cy="867.6" r="1.85" fill="#000"/>
<text x="150.8" y="871.9" font-size="15.4" text-anchor="middle">600</text>
<line x1="219.5" y1="952.6" x2="219.5" y2="971.6" stroke="#6e6e6e" stroke-width="0.8"/>
<line x1="219.5" y1="1003" x2="219.5" y2="1022" stroke="#6e6e6e" stroke-width="0.8"/>
<circle cx="219" cy="952.6" r="1.85" fill="#000"/>
<circle cx="219" cy="1022" r="1.85" fill="#000"/>
<text transform="translate(224.8 987.5) rotate(-90)" class="v" font-size="15.9" text-anchor="middle" style="letter-spacing:0">460</text>
<g transform="translate(125.7 1022.9) scale(0.988)" fill="none" stroke="#333" stroke-width="1.05">
<path d="M10 -71.5 L10.9 -70.4 C24 -70.3 38 -70.5 47.3 -70.9 C52 -71.1 56 -71.8 60.1 -71.8 C62.5 -71.8 64.6 -71.5 66.5 -70.8 C68.6 -70 70.2 -69.2 71.8 -68.2 C73.2 -67.2 74.4 -66.2 75.5 -65.1 L75 -64.1 C73.8 -65 72.6 -65.8 70.8 -66.6 C69.2 -67.5 68 -68.4 66.5 -69.2 C64.6 -70 62.5 -70.3 60.1 -70.3 C56 -70.3 52 -69.3 47.3 -68.9 C38 -68.3 24 -68.4 11.5 -68.3" stroke-width="1.0"/>
<path d="M10 -71.5 L11 -60.7 C13 -59.8 16 -59.2 18.5 -59.1 C27 -58.6 36.5 -63.2 47.8 -68.8" />
<circle cx="14.55" cy="-63.9" r="1.6" fill="#fff" stroke-width="0.9"/>
<path d="M7.3 -59.3 L17.8 -59.1 C18.1 -57.6 18 -56.2 17.6 -54.9 C17 -53 16.1 -51.6 14.8 -50.4 C13 -48.9 10.4 -48.3 7.3 -48.3" />
<path d="M-7.2 -9.5 L-7.2 -54 L-7.2 -54 C-7.22 -55.78 -7.18 -61.05 -7.3 -64.7 C-7.42 -68.35 -7.62 -72.57 -7.9 -75.9 C-8.18 -79.23 -8.53 -81.77 -9 -84.7 C-9.47 -87.63 -9.95 -90.17 -10.7 -93.5 C-11.45 -96.83 -12.37 -100.7 -13.5 -104.7 C-14.63 -108.7 -16.13 -113.25 -17.5 -117.5 C-18.87 -121.75 -21 -128.08 -21.7 -130.2 C-21.6 -133 -20.6 -134.6 -19.5 -135.9 C-17.6 -138 -15.6 -138.9 -13.9 -138.9 C-12.4 -138.9 -11.2 -138.3 -10.3 -137.5 C-9.6 -136.7 -9.2 -135.7 -8.9 -134.6 C-8.07 -132.55 -5.53 -126.88 -3.9 -122.3 C-2.27 -117.72 -0.43 -111.9 0.9 -107.1 C2.23 -102.3 3.23 -97.9 4.1 -93.5 C4.97 -89.1 5.62 -84.62 6.1 -80.7 C6.58 -76.78 6.81 -73.45 7 -70 C7.19 -66.55 7.21 -63 7.25 -60 C7.29 -57 7.25 -53.33 7.25 -52 L7.25 -9.5 Z" fill="#fff" stroke="none"/>
<path d="M-21.7 -130.2 C-21 -128.08 -18.87 -121.75 -17.5 -117.5 C-16.13 -113.25 -14.63 -108.7 -13.5 -104.7 C-12.37 -100.7 -11.45 -96.83 -10.7 -93.5 C-9.95 -90.17 -9.47 -87.63 -9 -84.7 C-8.53 -81.77 -8.18 -79.23 -7.9 -75.9 C-7.62 -72.57 -7.42 -68.35 -7.3 -64.7 C-7.18 -61.05 -7.22 -55.78 -7.2 -54 L-7.2 -9.5" />
<path d="M-8.9 -134.6 C-8.07 -132.55 -5.53 -126.88 -3.9 -122.3 C-2.27 -117.72 -0.43 -111.9 0.9 -107.1 C2.23 -102.3 3.23 -97.9 4.1 -93.5 C4.97 -89.1 5.62 -84.62 6.1 -80.7 C6.58 -76.78 6.81 -73.45 7 -70 C7.19 -66.55 7.21 -63 7.25 -60 C7.29 -57 7.25 -53.33 7.25 -52 L7.25 -9.5" />
<path d="M-21.7 -130.2 C-21.6 -133 -20.6 -134.6 -19.5 -135.9 C-17.6 -138 -15.6 -138.9 -13.9 -138.9 C-12.4 -138.9 -11.2 -138.3 -10.3 -137.5 C-9.6 -136.7 -9.2 -135.7 -8.9 -134.6" />
<path d="M-21.5 -129.9 L-9.3 -134.1" />
<path d="M-7.2 -9.5 L7.25 -9.5 M-7.2 -9.5 L-8.2 -6.1 L8.2 -6.1 L7.25 -9.5" />
<path d="M-8.2 -6.1 C-12 -5.7 -16 -4.9 -19 -3.8 C-20.8 -3.2 -20.9 -0.9 -19.2 -0.5 C-12 -3 12 -3 19.2 -0.5 C20.9 -0.9 20.8 -3.2 19 -3.8 C16 -4.9 12 -5.7 8.2 -6.1" />
<path d="M-18.6 -3.9 C-17.6 -3.2 -17.3 -1.8 -18 -0.9 M18.6 -3.9 C17.6 -3.2 17.3 -1.8 18 -0.9" stroke-width="0.8"/>
</g>
<line x1="295" y1="867.5" x2="300.6" y2="867.5" stroke="#6e6e6e" stroke-width="0.8"/>
<line x1="329.6" y1="867.5" x2="336.4" y2="867.5" stroke="#6e6e6e" stroke-width="0.8"/>
<circle cx="295" cy="867.6" r="1.85" fill="#000"/>
<circle cx="336.4" cy="867.6" r="1.85" fill="#000"/>
<text x="315" y="871.9" font-size="15.4" text-anchor="middle">270</text>
<g transform="translate(317 1022.9) scale(0.988)" fill="none" stroke="#333" stroke-width="1.05">
<path d="M13.6 -124.3 C11 -123 9.6 -121.6 9 -120.5 C7 -117 6.4 -115 6.5 -112 C6.8 -105 7.6 -98 7.75 -93 L8.6 -61.4" />
<path d="M13.6 -124.3 C12 -121.6 11.2 -120.4 10.7 -118.9 C9.6 -116 9.3 -114 9.4 -111.4 C9.5 -106 9.6 -101 9.8 -97.2 C10.2 -90 11 -82 11 -76.4 C11 -70 10.6 -66 10.25 -62.2" />
<path d="M9.8 -96.8 C12.5 -93 15 -88 16.5 -83 C18.4 -78 19.8 -74.4 20 -71.4 C20.2 -68 19.2 -64.4 18.2 -61.4" />
<path d="M7.5 -60.2 L18.2 -60.8" />
<circle cx="14.4" cy="-63.9" r="1.5" fill="#fff"/>
<path d="M18.2 -60.8 C18.6 -54 15 -48.6 7.3 -48" />
<path d="M-7.2 -9.5 L-7.2 -54 L-7.2 -54 C-7.22 -55.78 -7.18 -61.05 -7.3 -64.7 C-7.42 -68.35 -7.62 -72.57 -7.9 -75.9 C-8.18 -79.23 -8.53 -81.77 -9 -84.7 C-9.47 -87.63 -9.95 -90.17 -10.7 -93.5 C-11.45 -96.83 -12.37 -100.7 -13.5 -104.7 C-14.63 -108.7 -16.13 -113.25 -17.5 -117.5 C-18.87 -121.75 -21 -128.08 -21.7 -130.2 C-21.6 -133 -20.6 -134.6 -19.5 -135.9 C-17.6 -138 -15.6 -138.9 -13.9 -138.9 C-12.4 -138.9 -11.2 -138.3 -10.3 -137.5 C-9.6 -136.7 -9.2 -135.7 -8.9 -134.6 C-8.07 -132.55 -5.53 -126.88 -3.9 -122.3 C-2.27 -117.72 -0.43 -111.9 0.9 -107.1 C2.23 -102.3 3.23 -97.9 4.1 -93.5 C4.97 -89.1 5.62 -84.62 6.1 -80.7 C6.58 -76.78 6.81 -73.45 7 -70 C7.19 -66.55 7.21 -63 7.25 -60 C7.29 -57 7.25 -53.33 7.25 -52 L7.25 -9.5 Z" fill="#fff" stroke="none"/>
<path d="M-21.7 -130.2 C-21 -128.08 -18.87 -121.75 -17.5 -117.5 C-16.13 -113.25 -14.63 -108.7 -13.5 -104.7 C-12.37 -100.7 -11.45 -96.83 -10.7 -93.5 C-9.95 -90.17 -9.47 -87.63 -9 -84.7 C-8.53 -81.77 -8.18 -79.23 -7.9 -75.9 C-7.62 -72.57 -7.42 -68.35 -7.3 -64.7 C-7.18 -61.05 -7.22 -55.78 -7.2 -54 L-7.2 -9.5" />
<path d="M-8.9 -134.6 C-8.07 -132.55 -5.53 -126.88 -3.9 -122.3 C-2.27 -117.72 -0.43 -111.9 0.9 -107.1 C2.23 -102.3 3.23 -97.9 4.1 -93.5 C4.97 -89.1 5.62 -84.62 6.1 -80.7 C6.58 -76.78 6.81 -73.45 7 -70 C7.19 -66.55 7.21 -63 7.25 -60 C7.29 -57 7.25 -53.33 7.25 -52 L7.25 -9.5" />
<path d="M-21.7 -130.2 C-21.6 -133 -20.6 -134.6 -19.5 -135.9 C-17.6 -138 -15.6 -138.9 -13.9 -138.9 C-12.4 -138.9 -11.2 -138.3 -10.3 -137.5 C-9.6 -136.7 -9.2 -135.7 -8.9 -134.6" />
<path d="M-21.5 -129.9 L-9.3 -134.1" />
<path d="M-7.2 -9.5 L7.25 -9.5 M-7.2 -9.5 L-8.2 -6.1 L8.2 -6.1 L7.25 -9.5" />
<path d="M-8.2 -6.1 C-12 -5.7 -16 -4.9 -19 -3.8 C-20.8 -3.2 -20.9 -0.9 -19.2 -0.5 C-12 -3 12 -3 19.2 -0.5 C20.9 -0.9 20.8 -3.2 19 -3.8 C16 -4.9 12 -5.7 8.2 -6.1" />
<path d="M-18.6 -3.9 C-17.6 -3.2 -17.3 -1.8 -18 -0.9 M18.6 -3.9 C17.6 -3.2 17.3 -1.8 18 -0.9" stroke-width="0.8"/>
</g>
<line x1="297" y1="1044.6" x2="337.4" y2="1044.6" stroke="#b4b4b4" stroke-width="1.2"/>
<circle cx="297" cy="1044.6" r="1.85" fill="#000"/>
<circle cx="310" cy="1044.6" r="1.85" fill="#000"/>
<circle cx="324" cy="1044.6" r="1.85" fill="#000"/>
<circle cx="337.4" cy="1044.6" r="1.85" fill="#000"/>
<text x="295" y="1041" font-size="15.4" text-anchor="middle">85</text>
<text x="316.8" y="1041" font-size="15.4" text-anchor="middle">90</text>
<text x="339.5" y="1041" font-size="15.4" text-anchor="middle">85</text>
<line x1="297" y1="1062" x2="302" y2="1062" stroke="#b4b4b4" stroke-width="1.1"/>
<line x1="330.4" y1="1062" x2="337.4" y2="1062" stroke="#b4b4b4" stroke-width="1.1"/>
<circle cx="297" cy="1062" r="1.85" fill="#000"/>
<circle cx="337.4" cy="1062" r="1.85" fill="#000"/>
<text x="316.2" y="1066.3" font-size="15.4" text-anchor="middle">260</text>
<line x1="440" y1="867.5" x2="445" y2="867.5" stroke="#6e6e6e" stroke-width="0.8"/>
<line x1="474" y1="867.5" x2="479.6" y2="867.5" stroke="#6e6e6e" stroke-width="0.8"/>
<circle cx="440" cy="867.6" r="1.85" fill="#000"/>
<circle cx="479.6" cy="867.6" r="1.85" fill="#000"/>
<text x="459.5" y="871.9" font-size="15.4" text-anchor="middle">255</text>
<line x1="479.6" y1="867.5" x2="505.6" y2="867.5" stroke="#6e6e6e" stroke-width="0.8"/>
<line x1="536" y1="867.5" x2="559.6" y2="867.5" stroke="#6e6e6e" stroke-width="0.8"/>
<circle cx="479.6" cy="867.6" r="1.85" fill="#000"/>
<circle cx="559.6" cy="867.6" r="1.85" fill="#000"/>
<text x="520.8" y="871.9" font-size="15.4" text-anchor="middle">510</text>
<line x1="559.6" y1="867.5" x2="586.2" y2="867.5" stroke="#6e6e6e" stroke-width="0.8"/>
<line x1="616.4" y1="867.5" x2="639.6" y2="867.5" stroke="#6e6e6e" stroke-width="0.8"/>
<circle cx="559.6" cy="867.6" r="1.85" fill="#000"/>
<circle cx="639.6" cy="867.6" r="1.85" fill="#000"/>
<text x="601.3" y="871.9" font-size="15.4" text-anchor="middle">510</text>
<line x1="413.5" y1="886.4" x2="413.5" y2="936.5" stroke="#6e6e6e" stroke-width="0.8"/>
<line x1="413.5" y1="970.5" x2="413.5" y2="1022.4" stroke="#6e6e6e" stroke-width="0.8"/>
<circle cx="413.3" cy="886.4" r="1.85" fill="#000"/>
<circle cx="413.3" cy="1022.4" r="1.85" fill="#000"/>
<text transform="translate(419.8 953.3) rotate(-90)" class="v" font-size="15.9" text-anchor="middle" style="letter-spacing:0">870</text>
<g fill="none" stroke="#333" stroke-width="1">
<path d="M437.6 1017 L437.6 888.7 A2.6 2.6 0 0 1 442.8 888.7 L442.8 1017" />
<path d="M437.6 891 L442.8 891" />
<rect x="435.1" y="1017" width="10.2" height="5.9" rx="1.2" ry="1.2"/>
<path d="M677.2 1017 L677.2 888.5 A2.4 2.4 0 0 1 682 888.5 L682 1017" />
<path d="M677.2 891 L682 891" />
<rect x="674.5" y="1017" width="10.2" height="5.9" rx="1.2" ry="1.2"/>
<path d="M442.8 888 L677.2 888" />
<path d="M442.8 962.9 L677.2 962.9 M442.8 975.4 L677.2 975.4" />
</g>
<g transform="translate(480.1 300.7) scale(0.983)" fill="none" stroke="#333" stroke-width="1">
<path d="M-12.8 673 C-13.6 672.9 -16 672.83 -17.6 672.4 C-19.2 671.97 -20.93 671.27 -22.4 670.4 C-23.87 669.53 -25.2 668.4 -26.4 667.2 C-27.6 666 -28.67 664.67 -29.6 663.2 C-30.53 661.73 -31.4 660 -32 658.4 C-32.6 656.8 -32.77 655.2 -33.2 653.6 C-33.63 652 -34.29 650.4 -34.6 648.8 C-34.91 647.2 -34.97 646.8 -35.05 644 C-35.12 641.2 -35.09 635.2 -35.05 632 C-35.01 628.8 -35.11 626.67 -34.8 624.8 C-34.49 622.93 -33.93 622.07 -33.2 620.8 C-32.47 619.53 -31.67 618.33 -30.4 617.2 C-29.13 616.07 -27.33 614.83 -25.6 614 C-23.87 613.17 -22.27 612.68 -20 612.2 C-17.73 611.72 -15.33 611.4 -12 611.1 C-8.67 610.8 -4 610.4 0 610.4 C4 610.4 8.67 610.8 12 611.1 C15.33 611.4 17.73 611.72 20 612.2 C22.27 612.68 23.87 613.17 25.6 614 C27.33 614.83 29.13 616.07 30.4 617.2 C31.67 618.33 32.47 619.53 33.2 620.8 C33.93 622.07 34.49 622.93 34.8 624.8 C35.11 626.67 35.01 628.8 35.05 632 C35.09 635.2 35.12 641.2 35.05 644 C34.97 646.8 34.91 647.2 34.6 648.8 C34.29 650.4 33.63 652 33.2 653.6 C32.77 655.2 32.6 656.8 32 658.4 C31.4 660 30.53 661.73 29.6 663.2 C28.67 664.67 27.6 666 26.4 667.2 C25.2 668.4 23.87 669.53 22.4 670.4 C20.93 671.27 19.2 671.97 17.6 672.4 C16 672.83 13.6 672.9 12.8 673" />
<path d="M-32.8 652.8 C-32.73 651.6 -32.47 648.4 -32.4 645.6 C-32.33 642.8 -32.43 638.93 -32.4 636 C-32.37 633.07 -32.33 630.07 -32.2 628 C-32.07 625.93 -32.03 624.87 -31.6 623.6 C-31.17 622.33 -30.6 621.4 -29.6 620.4 C-28.6 619.4 -27.2 618.37 -25.6 617.6 C-24 616.83 -22.27 616.27 -20 615.8 C-17.73 615.33 -15.33 615.07 -12 614.8 C-8.67 614.53 -4 614.2 0 614.2 C4 614.2 8.67 614.53 12 614.8 C15.33 615.07 17.73 615.33 20 615.8 C22.27 616.27 24 616.83 25.6 617.6 C27.2 618.37 28.6 619.4 29.6 620.4 C30.6 621.4 31.17 622.33 31.6 623.6 C32.03 624.87 32.07 625.93 32.2 628 C32.33 630.07 32.37 633.07 32.4 636 C32.43 638.93 32.33 642.8 32.4 645.6 C32.47 648.4 32.73 651.6 32.8 652.8" stroke-width="0.9"/>
<path d="M-12.4 672.6 C-12.73 672.3 -13.73 671.83 -14.4 670.8 C-15.07 669.77 -15.9 668.2 -16.4 666.4 C-16.9 664.6 -17.2 662.67 -17.4 660 C-17.6 657.33 -17.57 653.07 -17.6 650.4 C-17.63 647.73 -17.8 645.53 -17.6 644 C-17.4 642.47 -17.07 641.93 -16.4 641.2 C-15.73 640.47 -15 640 -13.6 639.6 C-12.2 639.2 -10.27 638.97 -8 638.8 C-5.73 638.63 -2.67 638.6 0 638.6 C2.67 638.6 5.73 638.63 8 638.8 C10.27 638.97 12.2 639.2 13.6 639.6 C15 640 15.73 640.47 16.4 641.2 C17.07 641.93 17.4 642.47 17.6 644 C17.8 645.53 17.63 647.73 17.6 650.4 C17.57 653.07 17.6 657.33 17.4 660 C17.2 662.67 16.9 664.6 16.4 666.4 C15.9 668.2 15.07 669.77 14.4 670.8 C13.73 671.83 12.73 672.3 12.4 672.6" />
<path d="M-33 622.6 C-33.12 623.5 -33.57 625.77 -33.7 628 C-33.83 630.23 -33.8 632.83 -33.8 636 C-33.8 639.17 -33.8 644.27 -33.7 647 C-33.6 649.73 -33.28 651.5 -33.2 652.4" stroke-width="1.3" stroke="#888"/>
<path d="M-17.6 650.8 L-10.8 663.2 L-10.8 672.4" stroke-width="1.2"/>
<circle cx="13.6" cy="644" r="1.1" fill="#555" stroke="#444" stroke-width="0.6"/>
<circle cx="13.6" cy="667.6" r="1.0" fill="#999" stroke="#444" stroke-width="0.7"/>
<rect x="5" y="670" width="2.0" height="16.2" rx="1" fill="#aaa" stroke="#444" stroke-width="0.7"/>
<path d="M33 622.6 C33.12 623.5 33.57 625.77 33.7 628 C33.83 630.23 33.8 632.83 33.8 636 C33.8 639.17 33.8 644.27 33.7 647 C33.6 649.73 33.28 651.5 33.2 652.4" stroke-width="1.3" stroke="#888"/>
<path d="M17.6 650.8 L10.8 663.2 L10.8 672.4" stroke-width="1.2"/>
<circle cx="-13.6" cy="644" r="1.1" fill="#555" stroke="#444" stroke-width="0.6"/>
<circle cx="-13.6" cy="667.6" r="1.0" fill="#999" stroke="#444" stroke-width="0.7"/>
<rect x="-7" y="670" width="2.0" height="16.2" rx="1" fill="#aaa" stroke="#444" stroke-width="0.7"/>
</g>
<g transform="translate(560 300.7) scale(0.983)" fill="none" stroke="#333" stroke-width="1">
<path d="M-12.8 673 C-13.6 672.9 -16 672.83 -17.6 672.4 C-19.2 671.97 -20.93 671.27 -22.4 670.4 C-23.87 669.53 -25.2 668.4 -26.4 667.2 C-27.6 666 -28.67 664.67 -29.6 663.2 C-30.53 661.73 -31.4 660 -32 658.4 C-32.6 656.8 -32.77 655.2 -33.2 653.6 C-33.63 652 -34.29 650.4 -34.6 648.8 C-34.91 647.2 -34.97 646.8 -35.05 644 C-35.12 641.2 -35.09 635.2 -35.05 632 C-35.01 628.8 -35.11 626.67 -34.8 624.8 C-34.49 622.93 -33.93 622.07 -33.2 620.8 C-32.47 619.53 -31.67 618.33 -30.4 617.2 C-29.13 616.07 -27.33 614.83 -25.6 614 C-23.87 613.17 -22.27 612.68 -20 612.2 C-17.73 611.72 -15.33 611.4 -12 611.1 C-8.67 610.8 -4 610.4 0 610.4 C4 610.4 8.67 610.8 12 611.1 C15.33 611.4 17.73 611.72 20 612.2 C22.27 612.68 23.87 613.17 25.6 614 C27.33 614.83 29.13 616.07 30.4 617.2 C31.67 618.33 32.47 619.53 33.2 620.8 C33.93 622.07 34.49 622.93 34.8 624.8 C35.11 626.67 35.01 628.8 35.05 632 C35.09 635.2 35.12 641.2 35.05 644 C34.97 646.8 34.91 647.2 34.6 648.8 C34.29 650.4 33.63 652 33.2 653.6 C32.77 655.2 32.6 656.8 32 658.4 C31.4 660 30.53 661.73 29.6 663.2 C28.67 664.67 27.6 666 26.4 667.2 C25.2 668.4 23.87 669.53 22.4 670.4 C20.93 671.27 19.2 671.97 17.6 672.4 C16 672.83 13.6 672.9 12.8 673" />
<path d="M-32.8 652.8 C-32.73 651.6 -32.47 648.4 -32.4 645.6 C-32.33 642.8 -32.43 638.93 -32.4 636 C-32.37 633.07 -32.33 630.07 -32.2 628 C-32.07 625.93 -32.03 624.87 -31.6 623.6 C-31.17 622.33 -30.6 621.4 -29.6 620.4 C-28.6 619.4 -27.2 618.37 -25.6 617.6 C-24 616.83 -22.27 616.27 -20 615.8 C-17.73 615.33 -15.33 615.07 -12 614.8 C-8.67 614.53 -4 614.2 0 614.2 C4 614.2 8.67 614.53 12 614.8 C15.33 615.07 17.73 615.33 20 615.8 C22.27 616.27 24 616.83 25.6 617.6 C27.2 618.37 28.6 619.4 29.6 620.4 C30.6 621.4 31.17 622.33 31.6 623.6 C32.03 624.87 32.07 625.93 32.2 628 C32.33 630.07 32.37 633.07 32.4 636 C32.43 638.93 32.33 642.8 32.4 645.6 C32.47 648.4 32.73 651.6 32.8 652.8" stroke-width="0.9"/>
<path d="M-12.4 672.6 C-12.73 672.3 -13.73 671.83 -14.4 670.8 C-15.07 669.77 -15.9 668.2 -16.4 666.4 C-16.9 664.6 -17.2 662.67 -17.4 660 C-17.6 657.33 -17.57 653.07 -17.6 650.4 C-17.63 647.73 -17.8 645.53 -17.6 644 C-17.4 642.47 -17.07 641.93 -16.4 641.2 C-15.73 640.47 -15 640 -13.6 639.6 C-12.2 639.2 -10.27 638.97 -8 638.8 C-5.73 638.63 -2.67 638.6 0 638.6 C2.67 638.6 5.73 638.63 8 638.8 C10.27 638.97 12.2 639.2 13.6 639.6 C15 640 15.73 640.47 16.4 641.2 C17.07 641.93 17.4 642.47 17.6 644 C17.8 645.53 17.63 647.73 17.6 650.4 C17.57 653.07 17.6 657.33 17.4 660 C17.2 662.67 16.9 664.6 16.4 666.4 C15.9 668.2 15.07 669.77 14.4 670.8 C13.73 671.83 12.73 672.3 12.4 672.6" />
<path d="M-33 622.6 C-33.12 623.5 -33.57 625.77 -33.7 628 C-33.83 630.23 -33.8 632.83 -33.8 636 C-33.8 639.17 -33.8 644.27 -33.7 647 C-33.6 649.73 -33.28 651.5 -33.2 652.4" stroke-width="1.3" stroke="#888"/>
<path d="M-17.6 650.8 L-10.8 663.2 L-10.8 672.4" stroke-width="1.2"/>
<circle cx="13.6" cy="644" r="1.1" fill="#555" stroke="#444" stroke-width="0.6"/>
<circle cx="13.6" cy="667.6" r="1.0" fill="#999" stroke="#444" stroke-width="0.7"/>
<rect x="5" y="670" width="2.0" height="16.2" rx="1" fill="#aaa" stroke="#444" stroke-width="0.7"/>
<path d="M33 622.6 C33.12 623.5 33.57 625.77 33.7 628 C33.83 630.23 33.8 632.83 33.8 636 C33.8 639.17 33.8 644.27 33.7 647 C33.6 649.73 33.28 651.5 33.2 652.4" stroke-width="1.3" stroke="#888"/>
<path d="M17.6 650.8 L10.8 663.2 L10.8 672.4" stroke-width="1.2"/>
<circle cx="-13.6" cy="644" r="1.1" fill="#555" stroke="#444" stroke-width="0.6"/>
<circle cx="-13.6" cy="667.6" r="1.0" fill="#999" stroke="#444" stroke-width="0.7"/>
<rect x="-7" y="670" width="2.0" height="16.2" rx="1" fill="#aaa" stroke="#444" stroke-width="0.7"/>
</g>
<g transform="translate(640 300.7) scale(0.983)" fill="none" stroke="#333" stroke-width="1">
<path d="M-12.8 673 C-13.6 672.9 -16 672.83 -17.6 672.4 C-19.2 671.97 -20.93 671.27 -22.4 670.4 C-23.87 669.53 -25.2 668.4 -26.4 667.2 C-27.6 666 -28.67 664.67 -29.6 663.2 C-30.53 661.73 -31.4 660 -32 658.4 C-32.6 656.8 -32.77 655.2 -33.2 653.6 C-33.63 652 -34.29 650.4 -34.6 648.8 C-34.91 647.2 -34.97 646.8 -35.05 644 C-35.12 641.2 -35.09 635.2 -35.05 632 C-35.01 628.8 -35.11 626.67 -34.8 624.8 C-34.49 622.93 -33.93 622.07 -33.2 620.8 C-32.47 619.53 -31.67 618.33 -30.4 617.2 C-29.13 616.07 -27.33 614.83 -25.6 614 C-23.87 613.17 -22.27 612.68 -20 612.2 C-17.73 611.72 -15.33 611.4 -12 611.1 C-8.67 610.8 -4 610.4 0 610.4 C4 610.4 8.67 610.8 12 611.1 C15.33 611.4 17.73 611.72 20 612.2 C22.27 612.68 23.87 613.17 25.6 614 C27.33 614.83 29.13 616.07 30.4 617.2 C31.67 618.33 32.47 619.53 33.2 620.8 C33.93 622.07 34.49 622.93 34.8 624.8 C35.11 626.67 35.01 628.8 35.05 632 C35.09 635.2 35.12 641.2 35.05 644 C34.97 646.8 34.91 647.2 34.6 648.8 C34.29 650.4 33.63 652 33.2 653.6 C32.77 655.2 32.6 656.8 32 658.4 C31.4 660 30.53 661.73 29.6 663.2 C28.67 664.67 27.6 666 26.4 667.2 C25.2 668.4 23.87 669.53 22.4 670.4 C20.93 671.27 19.2 671.97 17.6 672.4 C16 672.83 13.6 672.9 12.8 673" />
<path d="M-32.8 652.8 C-32.73 651.6 -32.47 648.4 -32.4 645.6 C-32.33 642.8 -32.43 638.93 -32.4 636 C-32.37 633.07 -32.33 630.07 -32.2 628 C-32.07 625.93 -32.03 624.87 -31.6 623.6 C-31.17 622.33 -30.6 621.4 -29.6 620.4 C-28.6 619.4 -27.2 618.37 -25.6 617.6 C-24 616.83 -22.27 616.27 -20 615.8 C-17.73 615.33 -15.33 615.07 -12 614.8 C-8.67 614.53 -4 614.2 0 614.2 C4 614.2 8.67 614.53 12 614.8 C15.33 615.07 17.73 615.33 20 615.8 C22.27 616.27 24 616.83 25.6 617.6 C27.2 618.37 28.6 619.4 29.6 620.4 C30.6 621.4 31.17 622.33 31.6 623.6 C32.03 624.87 32.07 625.93 32.2 628 C32.33 630.07 32.37 633.07 32.4 636 C32.43 638.93 32.33 642.8 32.4 645.6 C32.47 648.4 32.73 651.6 32.8 652.8" stroke-width="0.9"/>
<path d="M-12.4 672.6 C-12.73 672.3 -13.73 671.83 -14.4 670.8 C-15.07 669.77 -15.9 668.2 -16.4 666.4 C-16.9 664.6 -17.2 662.67 -17.4 660 C-17.6 657.33 -17.57 653.07 -17.6 650.4 C-17.63 647.73 -17.8 645.53 -17.6 644 C-17.4 642.47 -17.07 641.93 -16.4 641.2 C-15.73 640.47 -15 640 -13.6 639.6 C-12.2 639.2 -10.27 638.97 -8 638.8 C-5.73 638.63 -2.67 638.6 0 638.6 C2.67 638.6 5.73 638.63 8 638.8 C10.27 638.97 12.2 639.2 13.6 639.6 C15 640 15.73 640.47 16.4 641.2 C17.07 641.93 17.4 642.47 17.6 644 C17.8 645.53 17.63 647.73 17.6 650.4 C17.57 653.07 17.6 657.33 17.4 660 C17.2 662.67 16.9 664.6 16.4 666.4 C15.9 668.2 15.07 669.77 14.4 670.8 C13.73 671.83 12.73 672.3 12.4 672.6" />
<path d="M-33 622.6 C-33.12 623.5 -33.57 625.77 -33.7 628 C-33.83 630.23 -33.8 632.83 -33.8 636 C-33.8 639.17 -33.8 644.27 -33.7 647 C-33.6 649.73 -33.28 651.5 -33.2 652.4" stroke-width="1.3" stroke="#888"/>
<path d="M-17.6 650.8 L-10.8 663.2 L-10.8 672.4" stroke-width="1.2"/>
<circle cx="13.6" cy="644" r="1.1" fill="#555" stroke="#444" stroke-width="0.6"/>
<circle cx="13.6" cy="667.6" r="1.0" fill="#999" stroke="#444" stroke-width="0.7"/>
<rect x="5" y="670" width="2.0" height="16.2" rx="1" fill="#aaa" stroke="#444" stroke-width="0.7"/>
<path d="M33 622.6 C33.12 623.5 33.57 625.77 33.7 628 C33.83 630.23 33.8 632.83 33.8 636 C33.8 639.17 33.8 644.27 33.7 647 C33.6 649.73 33.28 651.5 33.2 652.4" stroke-width="1.3" stroke="#888"/>
<path d="M17.6 650.8 L10.8 663.2 L10.8 672.4" stroke-width="1.2"/>
<circle cx="-13.6" cy="644" r="1.1" fill="#555" stroke="#444" stroke-width="0.6"/>
<circle cx="-13.6" cy="667.6" r="1.0" fill="#999" stroke="#444" stroke-width="0.7"/>
<rect x="-7" y="670" width="2.0" height="16.2" rx="1" fill="#aaa" stroke="#444" stroke-width="0.7"/>
</g>
</svg>
</body>
</html>
